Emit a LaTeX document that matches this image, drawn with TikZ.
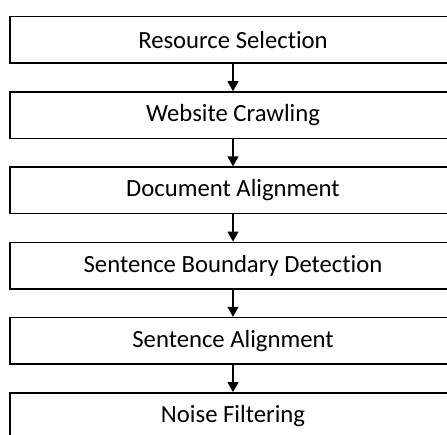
\documentclass[tikz,border=0pt]{standalone}
\usepackage{fontspec}
\setmainfont[Ligatures=CommonOff]{Carlito}
\usetikzlibrary{arrows.meta}
\begin{document}
\begin{tikzpicture}[x=1pt,y=1pt,
  stage/.style={draw=black, line width=1.5pt, minimum width=446pt, minimum height=46.5pt,
    inner sep=0pt, font=\fontsize{24.7pt}{29pt}\selectfont, anchor=center},
  flow/.style={line width=1.3pt, -{Triangle[width=11pt,length=10pt]}}]
\useasboundingbox (0,0) rectangle (447,434);
\clip (0,0) rectangle (447,434);
\node[stage] (s1) at (233,{434-40}) {Resource Selection};
\node[stage] (s2) at (233,{434-115.2}) {Website Crawling};
\node[stage] (s3) at (233,{434-190.4}) {Document Alignment};
\node[stage] (s4) at (233,{434-265.6}) {Sentence Boundary Detect\kern0pt ion};
\node[stage] (s5) at (233,{434-340.8}) {Sentence Alignment};
\node[stage] (s6) at (233,{434-416}) {Noise Filtering};
\draw[flow] (s1.south) -- (s2.north);
\draw[flow] (s2.south) -- (s3.north);
\draw[flow] (s3.south) -- (s4.north);
\draw[flow] (s4.south) -- (s5.north);
\draw[flow] (s5.south) -- (s6.north);
\end{tikzpicture}
\end{document}
